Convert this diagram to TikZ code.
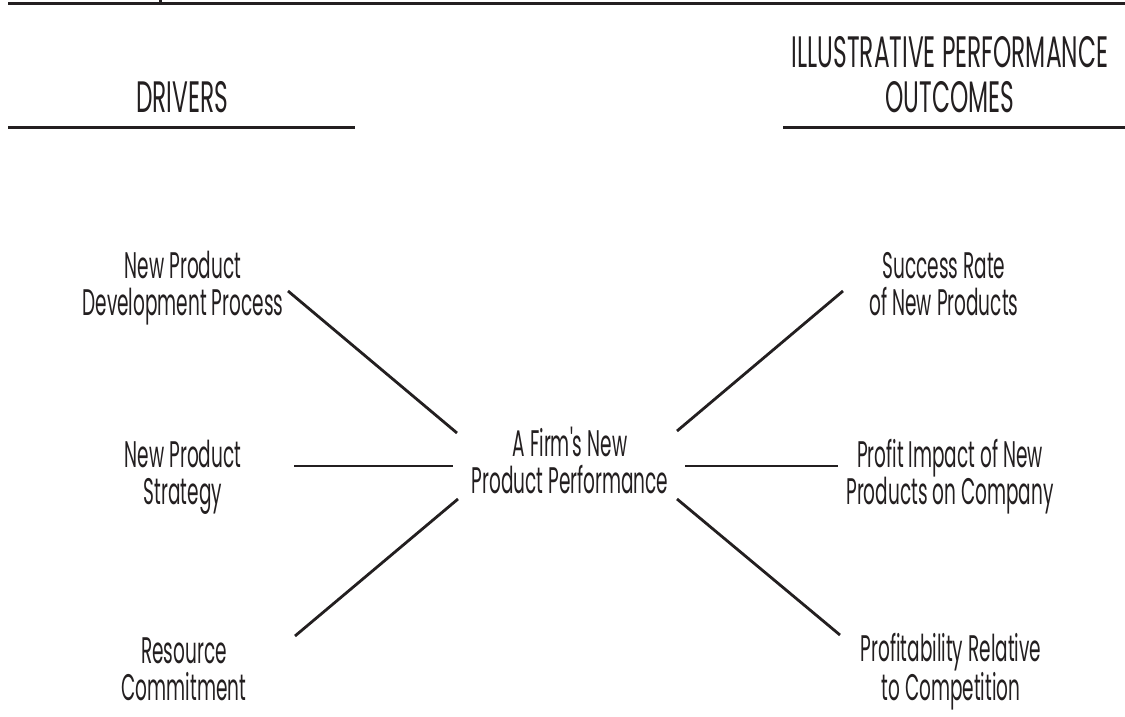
\documentclass[tikz,border=0pt]{standalone}
\usepackage{fontspec}
\newfontfamily\fut{Poppins}[FakeStretch=0.5]
\newfontfamily\futh{Poppins}[FakeStretch=0.53]
\definecolor{ink}{HTML}{231F20}
\begin{document}
\begin{tikzpicture}[x=1pt,y=-1pt,
  lbl/.style={align=center, inner sep=0pt, anchor=base, text=ink,
    font=\fut\fontsize{37}{37}\selectfont},
  hdr/.style={align=center, inner sep=0pt, anchor=base, text=ink,
    font=\futh\fontsize{44}{46}\selectfont},
  conn/.style={line width=2.8pt, draw=ink},
  rule/.style={line width=3pt, draw=ink}]
\useasboundingbox (0,0) rectangle (1125,717);
% top rule with tick
\coordinate (topL) at (8,4);
\coordinate (topR) at (1125,4);
\coordinate (tickT) at (160,0);
\coordinate (tickB) at (160,5);
\draw[rule] (topL) -- (topR);
\draw[line width=3pt, draw=ink] (tickT) -- (tickB);
% headers (anchor = baseline of last line)
\node[hdr] (drv) at (182,113) {DRIVERS};
\node[hdr] (out) at (950,113) {ILLUSTRATIVE PERFORMANCE\\OUTCOMES};
\coordinate (dl1) at (8,127);
\coordinate (dl2) at (355,127);
\coordinate (ol1) at (783,127);
\coordinate (ol2) at (1125,127);
\draw[rule] (dl1) -- (dl2);
\draw[rule] (ol1) -- (ol2);
% labels
\node[lbl] (npd) at (183,315) {New Product\\Development Process};
\node[lbl] (nps) at (183,504) {New Product\\Strategy};
\node[lbl] (rc) at (184,700) {Resource\\Commitment};
\node[lbl] (core) at (570,493) {A Firm's New\\Product Performance};
\node[lbl] (sr) at (944,315) {Success Rate\\of New Products};
\node[lbl] (pi) at (950,504) {Profit Impact of New\\Products on Company};
\node[lbl] (pr) at (951,700) {Profitability Relative\\to Competition};
% connector ends
\coordinate (a1) at (288,291); \coordinate (a2) at (457,433);
\coordinate (b1) at (294,466); \coordinate (b2) at (453,466);
\coordinate (c1) at (295,636); \coordinate (c2) at (458,499);
\coordinate (d1) at (677,431); \coordinate (d2) at (843,291);
\coordinate (e1) at (685,466); \coordinate (e2) at (838,466);
\coordinate (f1) at (677,499); \coordinate (f2) at (840,635);
\draw[conn] (a1) -- (a2);
\draw[conn] (b1) -- (b2);
\draw[conn] (c1) -- (c2);
\draw[conn] (d1) -- (d2);
\draw[conn] (e1) -- (e2);
\draw[conn] (f1) -- (f2);
\end{tikzpicture}
\end{document}
